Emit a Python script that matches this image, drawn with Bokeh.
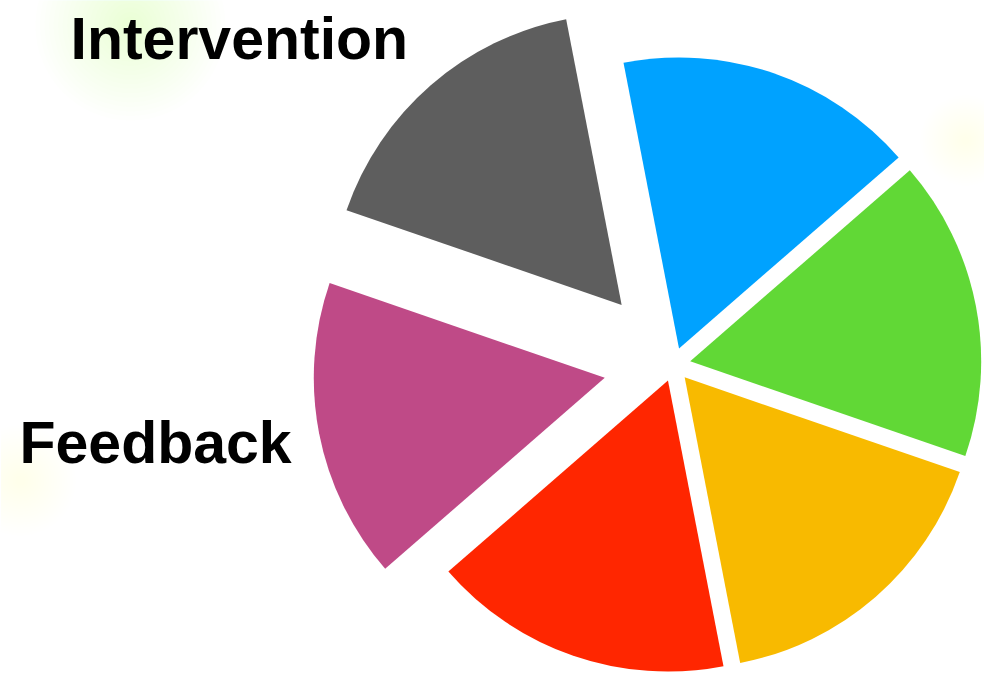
import math
from bokeh.plotting import figure
from bokeh.models import Range1d, Label
from bokeh.embed import file_html
from bokeh.resources import INLINE

# ---- data ----
categories = ["Segment A", "Intervention", "Feedback", "Segment D", "Segment E", "Segment F"]
values = [1, 1, 1, 1, 1, 1]
colors = ["#00A2FF", "#5E5E5E", "#BF4A87", "#FF2600", "#F8BA00", "#61D836"]
shown_labels = ["", "Intervention", "Feedback", "", "", ""]

# ---- style ----
W, H = 984, 677
CX, CY = 673, H - 364
R = 291
START_DEG = 41
explode = [17, 79, 70, 17, 17, 17]

p = figure(width=W, height=H, output_backend="svg", toolbar_location=None,
           x_range=Range1d(0, W), y_range=Range1d(0, H),
           min_border=0, x_axis_location=None, y_axis_location=None)
p.grid.visible = False
p.outline_line_color = None
p.background_fill_color = "white"
p.border_fill_color = "white"

# faint blurred background patches
for (bx, by, rmax, col, al) in [(130, H - 25, 95, "#c8e68c", 0.014),
                                (20, H - 480, 55, "#e6efc0", 0.010),
                                (965, H - 140, 45, "#dfe8c0", 0.010)]:
    n = 20
    for k in range(n):
        p.circle(x=bx, y=by, radius=rmax * (1 - k / (n + 1)), fill_color=col,
                 fill_alpha=al, line_color=None)

total = sum(values)
a = math.radians(START_DEG)
for v, c, e in zip(values, colors, explode):
    span = 2 * math.pi * v / total
    mid = a + span / 2
    x = CX + e * math.cos(mid)
    y = CY + e * math.sin(mid)
    p.wedge(x=x, y=y, radius=R, start_angle=a, end_angle=a + span,
            fill_color=c, line_color=None)
    a += span

label_pos = {"Intervention": (70, H - 38), "Feedback": (19, H - 442)}
for t in shown_labels:
    if t:
        lx, ly = label_pos[t]
        p.add_layout(Label(x=lx, y=ly, text=t, text_font="Liberation Sans",
                           text_font_style="bold", text_font_size="59px",
                           text_color="black", text_baseline="alphabetic",
                           text_align="left"))

open("out.html", "w").write(file_html(p, INLINE))
